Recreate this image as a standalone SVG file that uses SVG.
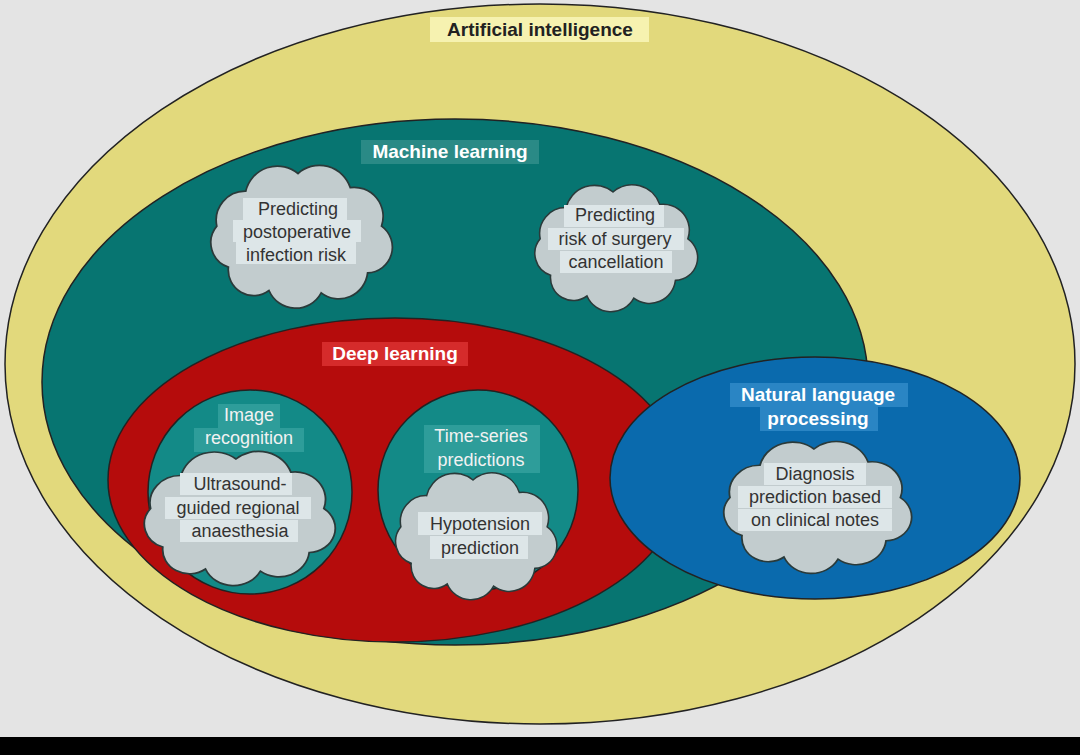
<svg xmlns="http://www.w3.org/2000/svg" width="1080" height="755" viewBox="0 0 1080 755">
<style>
text{font-family:"Liberation Sans",Arial,sans-serif;text-anchor:middle}
.t{font-size:19px;font-weight:bold;fill:#fff}
.s{font-size:18px;fill:#f2f2f2}
.c{font-size:18px;fill:#333}
.cl{fill:#c2ccce;stroke:#2a3a3a;stroke-width:1.5}
.hc{fill:#dde6e8}
.e{stroke:#222;stroke-width:1.5}
</style>
<defs>
<path id="cloud" d="M -60,30 A 22 22 0 0 1 -70,-5 A 25 25 0 0 1 -45,-35 A 28 28 0 0 1 0,-50 A 28 28 0 0 1 45,-38 A 25 25 0 0 1 72,-5 A 22 22 0 0 1 60,35 A 25 25 0 0 1 20,52 A 25 25 0 0 1 -25,50 A 22 22 0 0 1 -60,30 Z"/>
</defs>
<rect width="1080" height="755" fill="#e4e4e4"/>
<rect y="737" width="1080" height="18" fill="#000"/>
<g id="ai">
<ellipse class="e" cx="540" cy="364" rx="535" ry="360" fill="#e2d97c"/>
<rect x="430" y="17" width="219" height="25" fill="#f6f2b0"/>
<text x="540" y="36" style="font-size:19px;font-weight:bold;fill:#222">Artificial intelligence</text>
</g>
<g id="ml">
<ellipse class="e" cx="455" cy="382" rx="413" ry="263" fill="#077571"/>
<rect x="361" y="140" width="178" height="24" fill="#2a8a86"/>
<text class="t" x="450" y="158">Machine learning</text>
</g>
<g id="dl">
<ellipse class="e" cx="395" cy="480" rx="287" ry="162" fill="#b50c0c"/>
<rect x="322" y="342" width="146" height="24" fill="#d52b2b"/>
<text class="t" x="395" y="360">Deep learning</text>
</g>
<g id="nlp">
<ellipse class="e" cx="815" cy="478" rx="205" ry="121" fill="#0a6aad"/>
<rect x="730" y="383" width="178" height="24" fill="#2a85c4"/>
<rect x="760" y="407" width="118" height="24" fill="#2a85c4"/>
<text class="t" x="818" y="401">Natural language</text>
<text class="t" x="818" y="425">processing</text>
</g>
<g id="img">
<circle class="e" cx="250" cy="492" r="102" fill="#138a87"/>
<rect x="218" y="404" width="62" height="24" fill="#2e9d9a"/>
<rect x="194" y="428" width="110" height="24" fill="#2e9d9a"/>
<text class="s" x="249" y="421">Image</text>
<text class="s" x="249" y="444">recognition</text>
</g>
<g id="ts">
<circle class="e" cx="478" cy="490" r="100" fill="#138a87"/>
<rect x="424" y="425" width="116" height="24" fill="#2e9d9a"/>
<rect x="424" y="449" width="116" height="24" fill="#2e9d9a"/>
<text class="s" x="481" y="442">Time-series</text>
<text class="s" x="481" y="466">predictions</text>
</g>
<g id="c1">
<use href="#cloud" class="cl" transform="translate(298,232) scale(1.16,1.17)"/>
<rect x="243" y="198" width="104" height="22" class="hc"/>
<rect x="233" y="220" width="128" height="22" class="hc"/>
<rect x="236" y="242" width="120" height="22" class="hc"/>
<text class="c" x="298" y="215">Predicting</text>
<text class="c" x="297" y="238">postoperative</text>
<text class="c" x="296" y="261">infection risk</text>
</g>
<g id="c2">
<use href="#cloud" class="cl" transform="translate(613,244) scale(1.04,1.04)"/>
<rect x="564" y="205" width="100" height="22" class="hc"/>
<rect x="548" y="228" width="136" height="22" class="hc"/>
<rect x="560" y="251" width="112" height="22" class="hc"/>
<text class="c" x="615" y="221">Predicting</text>
<text class="c" x="615" y="245">risk of surgery</text>
<text class="c" x="616" y="268">cancellation</text>
</g>
<g id="c3">
<use href="#cloud" class="cl" transform="translate(236,514) scale(1.22,1.1)"/>
<rect x="180" y="473" width="112" height="22" class="hc"/>
<rect x="165" y="497" width="146" height="22" class="hc"/>
<rect x="180" y="520" width="118" height="22" class="hc"/>
<text class="c" x="240" y="490">Ultrasound-</text>
<text class="c" x="238" y="514">guided regional</text>
<text class="c" x="240" y="537">anaesthesia</text>
</g>
<g id="c4">
<use href="#cloud" class="cl" transform="translate(473,532) scale(1.03,1.04)"/>
<rect x="418" y="512" width="124" height="23" class="hc"/>
<rect x="430" y="536" width="98" height="23" class="hc"/>
<text class="c" x="480" y="530">Hypotension</text>
<text class="c" x="480" y="554">prediction</text>
</g>
<g id="c5">
<use href="#cloud" class="cl" transform="translate(814,503) scale(1.2,1.08)"/>
<rect x="764" y="463" width="102" height="22" class="hc"/>
<rect x="738" y="486" width="154" height="22" class="hc"/>
<rect x="738" y="509" width="154" height="22" class="hc"/>
<text class="c" x="815" y="480">Diagnosis</text>
<text class="c" x="815" y="503">prediction based</text>
<text class="c" x="815" y="526">on clinical notes</text>
</g>
<g id="connectors"/>
</svg>
